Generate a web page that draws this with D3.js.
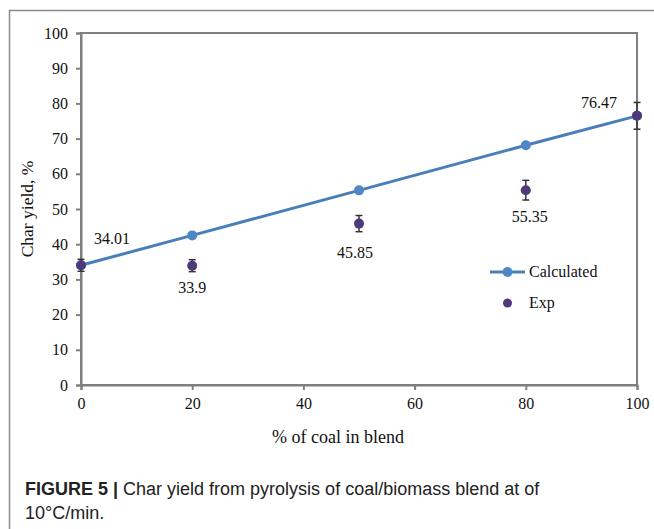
<!DOCTYPE html>
<html>
<head>
<meta charset="utf-8">
<script src="https://cdn.jsdelivr.net/npm/d3@7"></script>
<style>
  body { margin: 0; background: #fff; }
  svg { display: block; }
</style>
</head>
<body>
<div id="chart_area"></div>
<script>
var coalPct = [0, 20, 50, 80, 100];
var calculated = [34.01, 42.5, 55.3, 68.1, 76.47];
var expValues = [34.01, 33.9, 45.85, 55.35, 76.47];
var expError = [1.7, 1.7, 2.3, 2.8, 3.8];
var expLabels = ["34.01", "33.9", "45.85", "55.35", "76.47"];
var xTicks = [0, 20, 40, 60, 80, 100];
var yTicks = [0, 10, 20, 30, 40, 50, 60, 70, 80, 90, 100];

var W = 654, H = 529;
var margin = { top: 33, right: 17, bottom: 144, left: 81 },
    width = W - margin.left - margin.right,
    height = H - margin.top - margin.bottom;

var blue = "#4a7ebb", purple = "#4e3a78", axisGrey = "#7f7f7f";
var serif = "'Liberation Serif', 'Times New Roman', serif";

var root = d3.select("#chart_area")
    .append("svg")
    .attr("width", W)
    .attr("height", H);

// outer frame (top and left edges visible)
root.append("path")
    .attr("d", "M9.5," + H + "V10.5H" + W)
    .attr("fill", "none")
    .attr("stroke", "#8a8a8a")
    .attr("stroke-width", 1.5);

var svg = root.append("g")
    .attr("transform", "translate(" + margin.left + "," + margin.top + ")");

var x = d3.scaleLinear().domain([0, 100]).range([0, width]);
var y = d3.scaleLinear().domain([0, 100]).range([height, 0]);

// plot area border
svg.append("rect")
    .attr("x", 0).attr("y", 0)
    .attr("width", width).attr("height", height)
    .attr("fill", "none")
    .attr("stroke", axisGrey)
    .attr("stroke-width", 2);

// X axis
var gx = svg.append("g")
    .attr("transform", "translate(0," + height + ")")
    .call(d3.axisBottom(x).tickValues(xTicks).tickSize(5).tickPadding(8));
// Y axis
var gy = svg.append("g")
    .call(d3.axisLeft(y).tickValues(yTicks).tickSize(5).tickPadding(8));

[gx, gy].forEach(function (g) {
    g.select(".domain").attr("stroke", axisGrey).attr("stroke-width", 2);
    g.selectAll(".tick line").attr("stroke", axisGrey).attr("stroke-width", 2);
    g.selectAll("text")
        .attr("fill", "#111")
        .style("font-family", serif)
        .style("font-size", "16px");
});

// axis titles
svg.append("text")
    .attr("x", 338 - margin.left)
    .attr("y", height + 58)
    .attr("text-anchor", "middle")
    .style("font-family", serif)
    .style("font-size", "18px")
    .attr("fill", "#111")
    .text("% of coal in blend");

svg.append("text")
    .attr("transform", "translate(-48," + (height / 2) + ")rotate(-90)")
    .attr("text-anchor", "middle")
    .style("font-family", serif)
    .style("font-size", "17.5px")
    .attr("fill", "#111")
    .text("Char yield, %");

// Calculated line
var calc = coalPct.map(function (d, i) { return { x: d, y: calculated[i] }; });
svg.append("path")
    .datum(calc)
    .attr("fill", "none")
    .attr("stroke", blue)
    .attr("stroke-width", 3)
    .attr("d", d3.line().x(function (d) { return x(d.x); }).y(function (d) { return y(d.y); }));

svg.selectAll(".calcDot")
    .data(calc)
    .enter()
    .append("circle")
    .attr("cx", function (d) { return x(d.x); })
    .attr("cy", function (d) { return y(d.y); })
    .attr("r", 5)
    .attr("fill", "#4f86c6");

// Exp points with error bars
var exp = coalPct.map(function (d, i) {
    return { x: d, y: expValues[i], e: expError[i], label: expLabels[i] };
});

var eb = svg.selectAll(".errbar")
    .data(exp)
    .enter()
    .append("g")
    .attr("stroke", "#333")
    .attr("stroke-width", 1.5);
eb.append("line")
    .attr("x1", function (d) { return x(d.x); })
    .attr("x2", function (d) { return x(d.x); })
    .attr("y1", function (d) { return y(d.y + d.e); })
    .attr("y2", function (d) { return y(d.y - d.e); });
eb.append("line")
    .attr("x1", function (d) { return x(d.x) - 3.5; })
    .attr("x2", function (d) { return x(d.x) + 3.5; })
    .attr("y1", function (d) { return y(d.y + d.e); })
    .attr("y2", function (d) { return y(d.y + d.e); });
eb.append("line")
    .attr("x1", function (d) { return x(d.x) - 3.5; })
    .attr("x2", function (d) { return x(d.x) + 3.5; })
    .attr("y1", function (d) { return y(d.y - d.e); })
    .attr("y2", function (d) { return y(d.y - d.e); });

svg.selectAll(".expDot")
    .data(exp)
    .enter()
    .append("circle")
    .attr("cx", function (d) { return x(d.x); })
    .attr("cy", function (d) { return y(d.y); })
    .attr("r", 5)
    .attr("fill", purple);

// data labels (offsets in pixels)
var labelOffsets = [[13, -21, "start"], [0, 27, "middle"], [-4, 34, "middle"], [4, 32, "middle"], [-20, -8, "end"]];
svg.selectAll(".dataLabel")
    .data(exp)
    .enter()
    .append("text")
    .attr("x", function (d, i) { return x(d.x) + labelOffsets[i][0]; })
    .attr("y", function (d, i) { return y(d.y) + labelOffsets[i][1]; })
    .attr("text-anchor", function (d, i) { return labelOffsets[i][2]; })
    .style("font-family", serif)
    .style("font-size", "16px")
    .attr("fill", "#111")
    .text(function (d) { return d.label; });

// legend
var legend = svg.append("g").attr("transform", "translate(409,239)");
legend.append("line")
    .attr("x1", 0).attr("x2", 35).attr("y1", 0).attr("y2", 0)
    .attr("stroke", blue).attr("stroke-width", 3);
legend.append("circle").attr("cx", 17.5).attr("cy", 0).attr("r", 5).attr("fill", "#4f86c6");
legend.append("circle").attr("cx", 17.5).attr("cy", 31).attr("r", 4.5).attr("fill", purple);
legend.selectAll("text")
    .data(["Calculated", "Exp"])
    .enter()
    .append("text")
    .attr("x", 39)
    .attr("y", function (d, i) { return 5 + i * 31; })
    .style("font-family", serif)
    .style("font-size", "16px")
    .attr("fill", "#111")
    .text(function (d) { return d; });

// caption
var sans = "'Liberation Sans', Arial, sans-serif";
var cap = root.append("text")
    .attr("x", 25)
    .attr("y", 495)
    .style("font-family", sans)
    .style("font-size", "18px")
    .attr("fill", "#222");
cap.append("tspan").style("font-weight", "bold").text("FIGURE 5 | ");
cap.append("tspan").text("Char yield from pyrolysis of coal/biomass blend at of");
root.append("text")
    .attr("x", 25)
    .attr("y", 519)
    .style("font-family", sans)
    .style("font-size", "18px")
    .attr("fill", "#222")
    .text("10°C/min.");
</script>
</body>
</html>
